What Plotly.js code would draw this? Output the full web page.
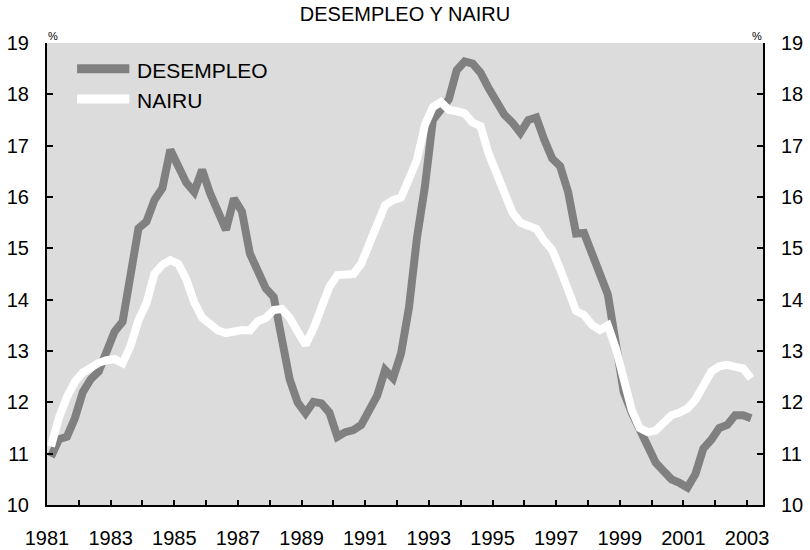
<!DOCTYPE html>
<html>
<head>
<meta charset="utf-8">
<script src="https://cdn.plot.ly/plotly-3.0.1.min.js"></script>
<style>html,body{margin:0;padding:0;background:#fff;}#chart{width:810px;height:550px;}</style>
</head>
<body>
<div id="chart"></div>
<script>
// Quarterly data, 1981Q1 .. 2003Q1
const startYear = 1981;
const desempleo = [
  10.94, 11.28, 11.33, 11.69, 12.20, 12.45, 12.60, 12.95, 13.38, 13.57,
  14.60, 15.39, 15.52, 15.94, 16.17, 16.92, 16.60, 16.28, 16.10, 16.53,
  16.07, 15.70, 15.36, 15.97, 15.72, 14.90, 14.55, 14.22, 14.05, 13.30,
  12.45, 12.00, 11.79, 12.01, 11.98, 11.80, 11.33, 11.42, 11.46, 11.56,
  11.87, 12.13, 12.63, 12.47, 12.95, 13.85, 15.20, 16.20, 17.50, 17.70,
  17.90, 18.47, 18.64, 18.60, 18.42, 18.12, 17.85, 17.60, 17.45, 17.25,
  17.50, 17.55, 17.12, 16.75, 16.60, 16.10, 15.29, 15.30, 14.90, 14.50,
  14.10, 13.15, 12.20, 11.80, 11.50, 11.20, 10.83, 10.66, 10.50, 10.43,
  10.34, 10.60, 11.10, 11.27, 11.50, 11.56, 11.75, 11.75, 11.69
];
const nairu = [
  11.14, 11.70, 12.10, 12.40, 12.58, 12.68, 12.77, 12.82, 12.84, 12.76,
  13.10, 13.60, 13.93, 14.50, 14.68, 14.77, 14.70, 14.40, 13.95, 13.65,
  13.50, 13.40, 13.35, 13.38, 13.41, 13.40, 13.58, 13.64, 13.80, 13.82,
  13.65, 13.38, 13.12, 13.44, 13.90, 14.25, 14.48, 14.50, 14.50, 14.70,
  15.10, 15.50, 15.84, 15.94, 15.99, 16.35, 16.72, 17.40, 17.75, 17.85,
  17.70, 17.67, 17.63, 17.45, 17.38, 16.85, 16.45, 16.10, 15.70, 15.50,
  15.43, 15.38, 15.15, 14.97, 14.60, 14.20, 13.78, 13.70, 13.51, 13.41,
  13.50, 13.05, 12.40, 11.85, 11.50, 11.42, 11.45, 11.62, 11.75, 11.80,
  11.88, 12.05, 12.30, 12.60, 12.70, 12.73, 12.69, 12.66, 12.47
];
const seriesNames = ["DESEMPLEO", "NAIRU"];
const tickYears = [];
for (let y = 1981; y <= 2003; y++) tickYears.push(y);
const tickLabels = tickYears.map(y => (y % 2 === 1 ? String(y) : ""));
const yTicks = [10, 11, 12, 13, 14, 15, 16, 17, 18, 19];

// quarter centres
const xq = desempleo.map((_, i) => startYear + (i + 0.5) / 4);

const font = "Arial, 'Liberation Sans', sans-serif";

const traces = [
  {x: xq, y: desempleo, name: seriesNames[0], type: "scatter", mode: "lines",
   line: {color: "#808080", width: 8}, showlegend: false},
  {x: xq, y: nairu, name: seriesNames[1], type: "scatter", mode: "lines",
   line: {color: "#ffffff", width: 8}, showlegend: false},
  {x: xq, y: nairu, yaxis: "y2", type: "scatter", mode: "lines",
   line: {width: 0}, hoverinfo: "skip", showlegend: false, opacity: 0}
];

const yCommon = {
  range: [10, 19], tickvals: yTicks, ticks: "inside", ticklen: 6, tickwidth: 2,
  tickcolor: "#000", showline: true, linecolor: "#000", linewidth: 2,
  showgrid: false, zeroline: false, tickfont: {family: font, size: 20, color: "#000"},
  ticklabelstandoff: 12, fixedrange: true
};

const layout = {
  width: 810, height: 550,
  margin: {l: 47, r: 47, t: 43, b: 45},
  paper_bgcolor: "#ffffff", plot_bgcolor: "#dcdcdc",
  title: {text: "DESEMPLEO Y NAIRU", font: {family: font, size: 20, color: "#000"},
          x: 0.5, xanchor: "center", y: 0.974, yanchor: "middle"},
  xaxis: {range: [1981, 2003.5], tickvals: tickYears, ticktext: tickLabels,
          ticks: "inside", ticklen: 5, tickwidth: 2, tickcolor: "#000",
          showline: true, linecolor: "#000", linewidth: 2, showgrid: false,
          zeroline: false, tickfont: {family: font, size: 20, color: "#000"},
          ticklabelstandoff: 14, fixedrange: true},
  yaxis: Object.assign({side: "left"}, yCommon),
  yaxis2: Object.assign({side: "right", overlaying: "y"}, yCommon),
  showlegend: false,
  shapes: [
    {type: "line", xref: "paper", yref: "paper", x0: 0.042, x1: 0.115, y0: 0.944, y1: 0.944,
     line: {color: "#808080", width: 9}},
    {type: "line", xref: "paper", yref: "paper", x0: 0.042, x1: 0.115, y0: 0.879, y1: 0.879,
     line: {color: "#ffffff", width: 9}}
  ],
  annotations: [
    {xref: "paper", yref: "paper", x: 0.127, y: 0.944, text: seriesNames[0], showarrow: false,
     xanchor: "left", yanchor: "middle", xshift: -3, yshift: -2,
     font: {family: font, size: 21, color: "#000"}},
    {xref: "paper", yref: "paper", x: 0.127, y: 0.879, text: seriesNames[1], showarrow: false,
     xanchor: "left", yanchor: "middle", xshift: -3, yshift: -2,
     font: {family: font, size: 21, color: "#000"}},
    {xref: "paper", yref: "paper", x: 0.008, y: 1.0, text: "%", showarrow: false,
     xanchor: "center", yanchor: "bottom", yshift: -1, font: {family: font, size: 11, color: "#000"}},
    {xref: "paper", yref: "paper", x: 0.992, y: 1.0, text: "%", showarrow: false,
     xanchor: "center", yanchor: "bottom", yshift: -1, font: {family: font, size: 11, color: "#000"}}
  ]
};

Plotly.newPlot("chart", traces, layout, {staticPlot: true, displayModeBar: false});
</script>
</body>
</html>
